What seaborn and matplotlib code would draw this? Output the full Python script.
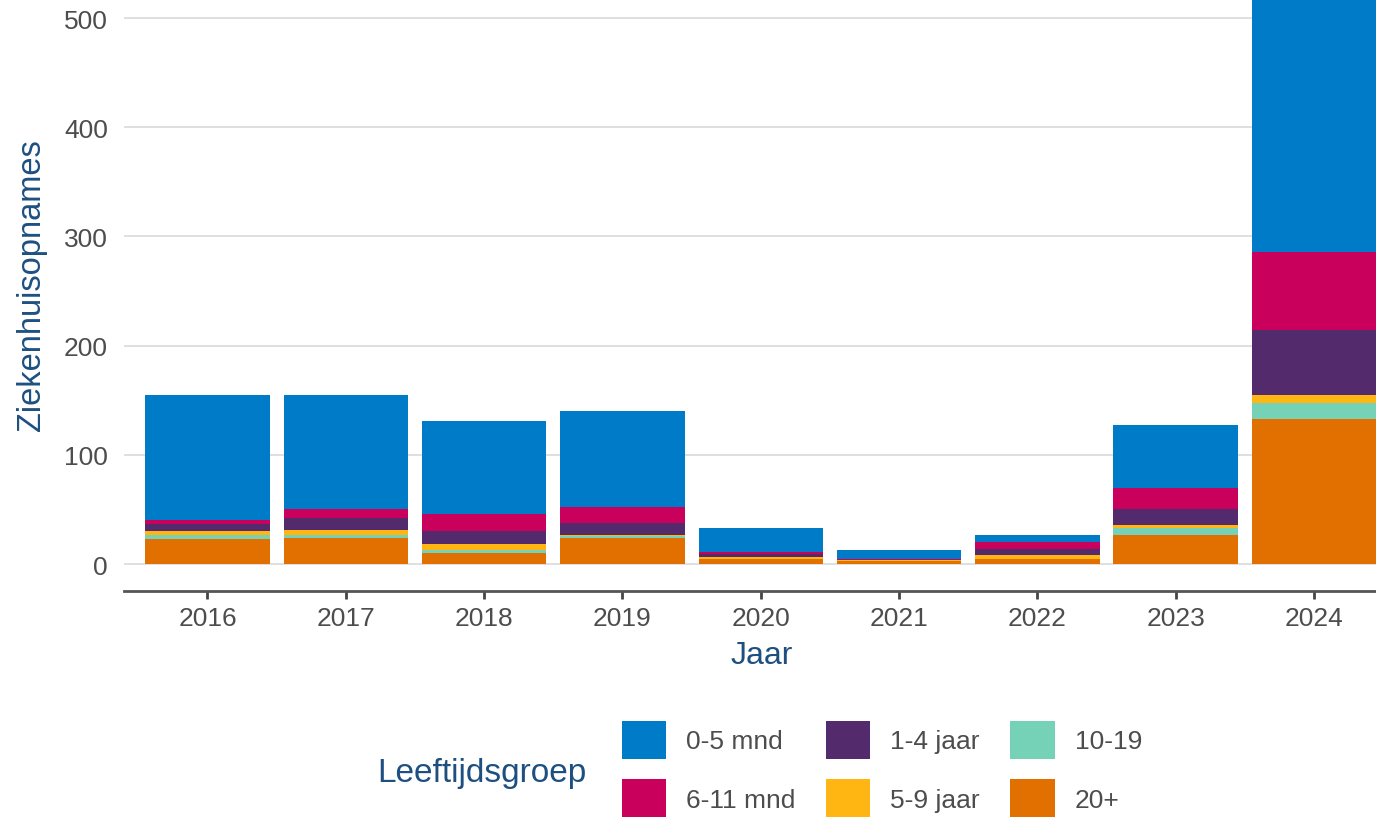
import matplotlib
matplotlib.use("Agg")
import matplotlib.pyplot as plt
import numpy as np
import pandas as pd
import seaborn as sns
from matplotlib.patches import Patch

# Hospital admissions per year, split by age group
years = ["2016", "2017", "2018", "2019", "2020", "2021", "2022", "2023", "2024"]
groups = ["0-5 mnd", "6-11 mnd", "1-4 jaar", "5-9 jaar", "10-19", "20+"]
m0_5 = [115, 105, 85, 88, 22, 8, 7, 57, 275]
m6_11 = [3, 8, 16, 14, 2, 1, 6, 20, 72]
j1_4 = [7, 11, 12, 11, 3, 0, 6, 14, 59]
j5_9 = [3, 4, 5, 1, 1, 1, 3, 3, 8]
j10_19 = [4, 3, 3, 2, 0, 0, 0, 6, 14]
j20 = [23, 24, 10, 24, 5, 3, 5, 27, 133]

colors = {
    "0-5 mnd": "#007BC7",
    "6-11 mnd": "#CA005D",
    "1-4 jaar": "#532A6C",
    "5-9 jaar": "#FFB612",
    "10-19": "#76D2B6",
    "20+": "#E17000",
}

series = {
    "0-5 mnd": m0_5, "6-11 mnd": m6_11, "1-4 jaar": j1_4,
    "5-9 jaar": j5_9, "10-19": j10_19, "20+": j20,
}

df = pd.DataFrame(
    [(y, g, series[g][i]) for i, y in enumerate(years) for g in groups],
    columns=["Jaar", "Leeftijdsgroep", "Ziekenhuisopnames"],
)
wide = df.pivot(index="Jaar", columns="Leeftijdsgroep", values="Ziekenhuisopnames").loc[years]
# stacking order from the bottom up
stack_order = ["20+", "10-19", "5-9 jaar", "1-4 jaar", "6-11 mnd", "0-5 mnd"]
cum = wide[stack_order].cumsum(axis=1)

sns.set_theme(style="white")
plt.rcParams["font.family"] = ["Liberation Sans", "DejaVu Sans"]

W, H = 1376, 820
fig = plt.figure(figsize=(W / 100, H / 100), dpi=100)
ax = fig.add_axes([124.5 / W, (H - 592) / H, 1272.5 / W, 592 / H])

label_blue = "#1D4F80"
tick_grey = "#4D4D4D"

# draw cumulative totals from the top layer down so each layer overlaps the next
for g in reversed(stack_order):
    layer = pd.DataFrame({"Jaar": years, "cum": cum[g].values})
    sns.barplot(data=layer, x="Jaar", y="cum", order=years, color=colors[g],
                saturation=1, width=0.9, linewidth=0, errorbar=None, ax=ax)

ax.set_xlim(-0.6, 8.6)
ax.set_ylim(-24.7, 517.4)
ax.set_yticks([0, 100, 200, 300, 400, 500])
ax.yaxis.grid(True, color="#DCDCDC", linewidth=1.3)
ax.xaxis.grid(False)
ax.set_axisbelow(True)
for side in ["top", "right", "left"]:
    ax.spines[side].set_visible(False)
ax.spines["bottom"].set_color("#555555")
ax.spines["bottom"].set_linewidth(2)
ax.tick_params(axis="y", length=0, pad=12, labelsize=19, labelcolor=tick_grey)
ax.tick_params(axis="x", length=6, width=2, color="#444444", pad=5,
               labelsize=19, labelcolor=tick_grey, bottom=True)
ax.set_xlabel("")
ax.set_ylabel("")

fig.text(762 / W, 1 - 664 / H, "Jaar", ha="center", va="baseline",
         fontsize=23, color=label_blue)
fig.text(32 / W, 1 - 285 / H, "Ziekenhuisopnames", ha="center", va="center",
         rotation=90, fontsize=23.5, color=label_blue)

fig.text(377 / W, 1 - 782 / H, "Leeftijdsgroep", ha="left", va="baseline",
         fontsize=24, color=label_blue)

handles = [Patch(facecolor=colors[g], edgecolor="none") for g in groups]
fig.legend(handles, groups, ncol=3, loc="upper left",
           bbox_to_anchor=(622 / W, 1 - 722 / H), frameon=False, borderpad=0,
           borderaxespad=0, fontsize=19, labelcolor=tick_grey,
           handlelength=1.67, handleheight=1.84, handletextpad=0.76,
           columnspacing=1.16, labelspacing=0.76)

fig.savefig("out.png", dpi=100)
